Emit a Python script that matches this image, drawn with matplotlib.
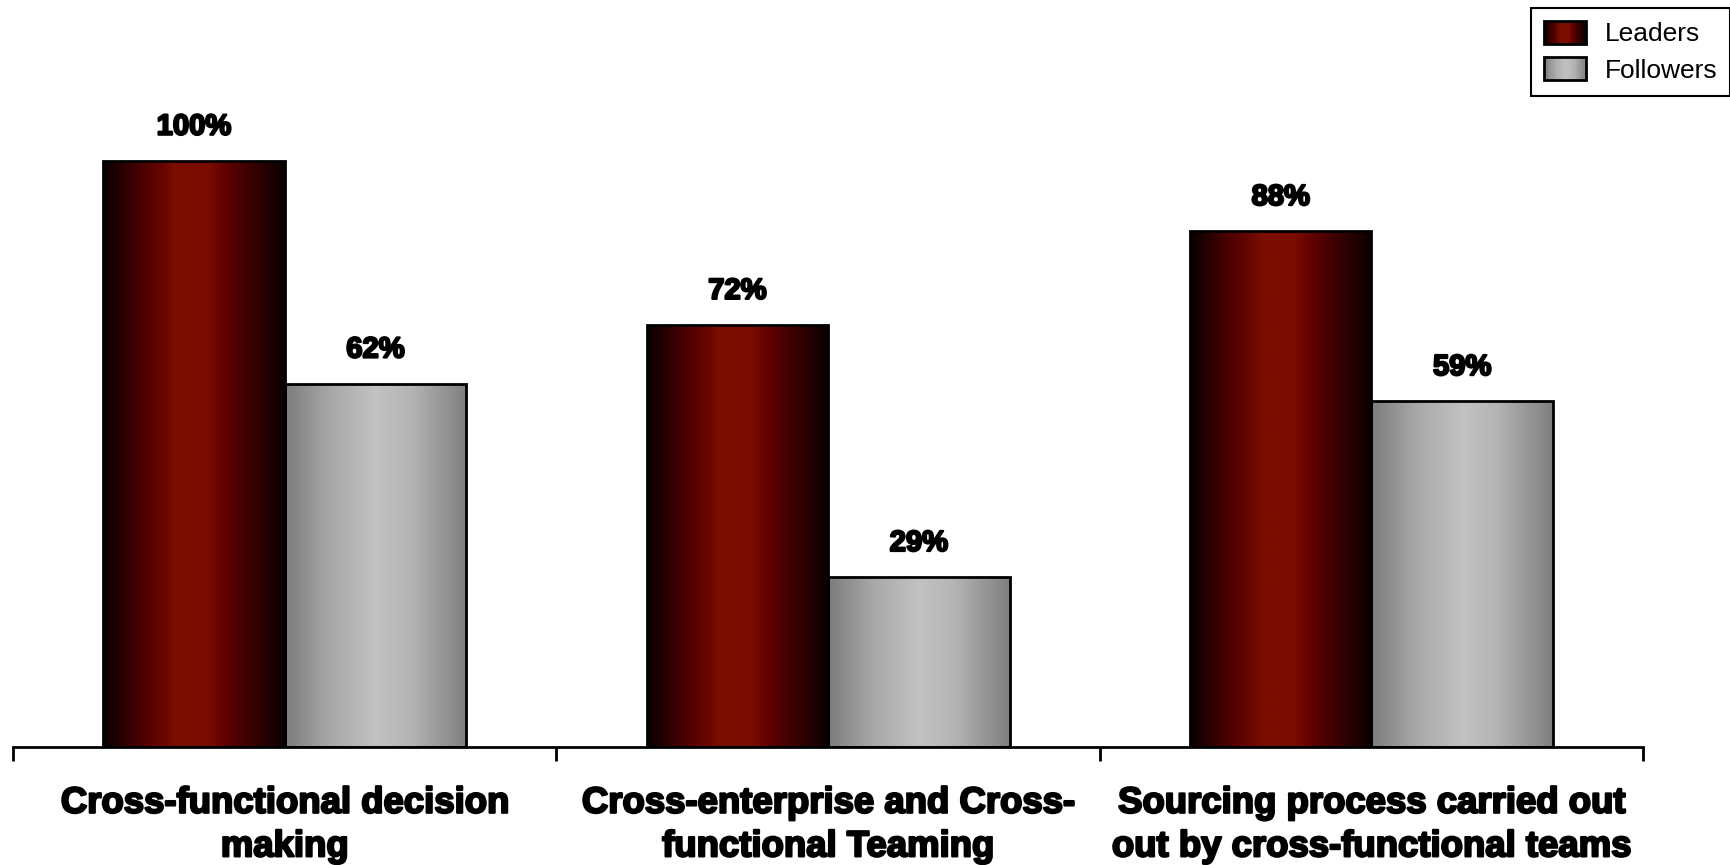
import matplotlib
matplotlib.use("Agg")
import matplotlib.pyplot as plt
import numpy as np
from matplotlib.colors import LinearSegmentedColormap
from matplotlib.patches import Rectangle
from matplotlib.legend_handler import HandlerBase
import matplotlib.patheffects as pe

categories = ["Cross-functional decision\nmaking",
              "Cross-enterprise and Cross-\nfunctional Teaming",
              "Sourcing process carried out\nout by cross-functional teams"]
series_names = ["Leaders", "Followers"]
leaders = [100, 72, 88]
followers = [62, 29, 59]

plt.rcParams["font.family"] = ["Liberation Sans", "DejaVu Sans"]

red_cmap = LinearSegmentedColormap.from_list(
    "leaders",
    [(0.0, "#080000"), (0.2, "#480000"), (0.32, "#680400"), (0.4, "#7a0e00"),
     (0.58, "#7a0c00"), (0.66, "#640000"), (0.82, "#380000"), (1.0, "#0a0000")])
gray_cmap = LinearSegmentedColormap.from_list(
    "followers",
    [(0.0, "#7c7c7c"), (0.25, "#a8a8a8"), (0.5, "#c2c2c2"), (0.7, "#b4b4b4"),
     (1.0, "#7e7e7e")])

heavy = [pe.withStroke(linewidth=1.6, foreground="black")]

fig = plt.figure(figsize=(17.31, 8.65), dpi=100)
ax = fig.add_axes([0.0075, 0.1364, 0.9417, 0.7456])

x = np.arange(len(categories))
w = 0.334
grad = np.linspace(0, 1, 256).reshape(1, -1)


def gradient_bars(xpos, values, cmap):
    bars = ax.bar(xpos, values, width=w, facecolor="none", edgecolor="black",
                  linewidth=2.0, zorder=3)
    for b in bars:
        x0, y0 = b.get_x(), b.get_y()
        im = ax.imshow(grad, cmap=cmap, aspect="auto", zorder=2,
                       extent=[x0, x0 + b.get_width(), y0, y0 + b.get_height()],
                       interpolation="bilinear")
        im.set_clip_path(b)
    return bars


b1 = gradient_bars(x - w / 2, leaders, red_cmap)
b2 = gradient_bars(x + w / 2, followers, gray_cmap)

for bars, vals in ((b1, leaders), (b2, followers)):
    for b, v in zip(bars, vals):
        ax.annotate(f"{v}%", (b.get_x() + b.get_width() / 2, v),
                    xytext=(0, 34), textcoords="offset pixels",
                    ha="center", va="center", fontsize=21, fontweight="bold",
                    path_effects=heavy)

ax.set_xlim(-0.5, len(categories) - 0.5)
ax.set_ylim(0, 110)
for s in ("top", "right", "left"):
    ax.spines[s].set_visible(False)
ax.spines["bottom"].set_linewidth(2)
ax.set_yticks([])
ax.set_xticks(np.arange(len(categories) + 1) - 0.5)
ax.set_xticklabels([])
ax.tick_params(axis="x", direction="out", length=10, width=2)
for xi, lab in zip(x, categories):
    ax.text(xi, -0.121, lab, transform=ax.get_xaxis_transform(), ha="center",
            va="center", fontsize=26.3, fontweight="bold", linespacing=1.32,
            path_effects=heavy)


class GradientHandler(HandlerBase):
    def __init__(self, cmap):
        super().__init__()
        self.cmap = cmap

    def create_artists(self, legend, orig_handle, xdescent, ydescent, width,
                       height, fontsize, trans):
        n = 24
        arts = []
        for i in range(n):
            arts.append(Rectangle((-xdescent + width * i / n, -ydescent),
                                  width / n + 0.3, height,
                                  facecolor=self.cmap((i + 0.5) / n),
                                  edgecolor="none", transform=trans))
        arts.append(Rectangle((-xdescent, -ydescent), width, height,
                              facecolor="none", edgecolor="black",
                              linewidth=2, transform=trans))
        return arts


h_lead = Rectangle((0, 0), 1, 1)
h_foll = Rectangle((0, 0), 1, 1)
leg = fig.legend([h_lead, h_foll], series_names, loc="upper right",
                 bbox_to_anchor=(0.9995, 0.9905), borderaxespad=0,
                 fontsize=19, frameon=True, fancybox=False, edgecolor="black",
                 framealpha=1, handlelength=1.6, handleheight=0.95,
                 borderpad=0.48, labelspacing=0.42, handletextpad=0.7,
                 handler_map={h_lead: GradientHandler(red_cmap),
                              h_foll: GradientHandler(gray_cmap)})
leg.get_frame().set_linewidth(1.5)

fig.savefig("out.png", dpi=100, facecolor="white")
